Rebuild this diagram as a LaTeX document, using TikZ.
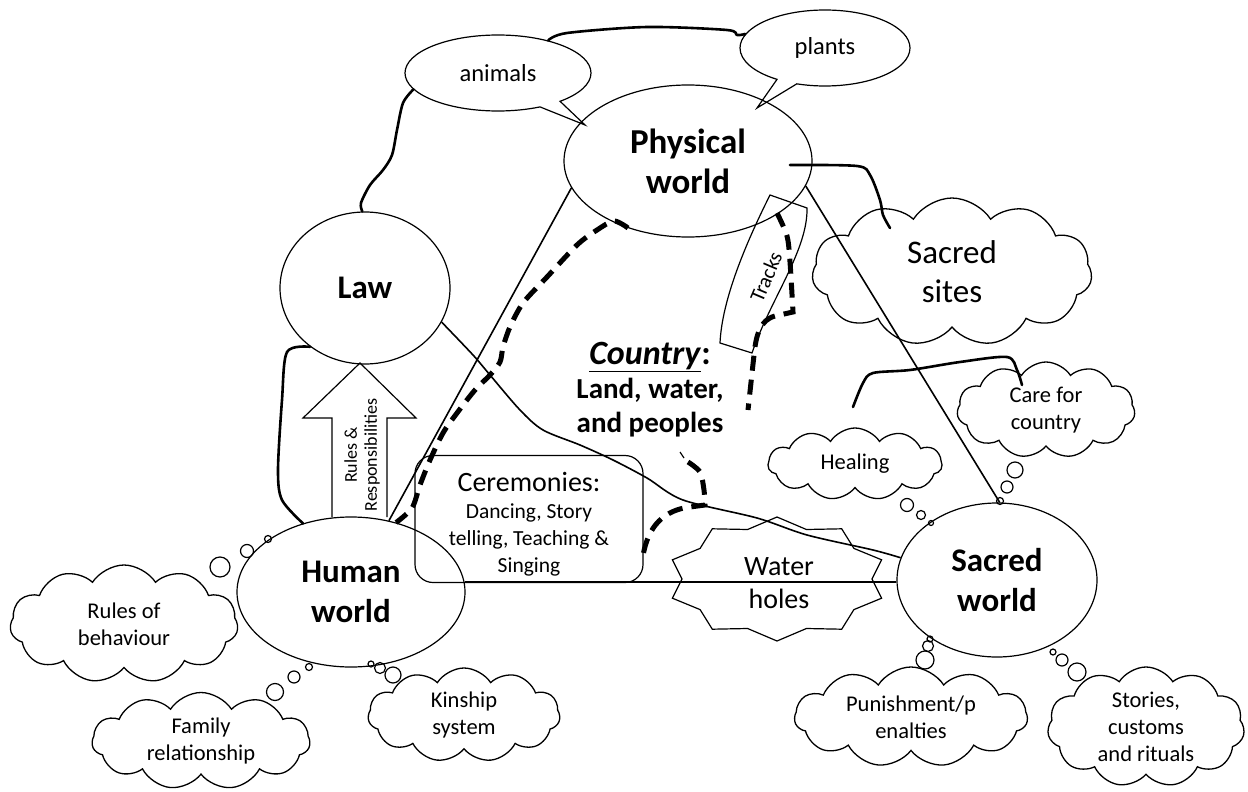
\documentclass[tikz,border=0pt]{standalone}
\usepackage{fontspec}
\setmainfont{Carlito}
\usetikzlibrary{shapes.geometric,shapes.symbols,shapes.callouts}

\begin{document}
\begin{tikzpicture}[
		x=1pt, y=-1pt,
		thinline/.style={line width=1.2pt},
		edge/.style={line width=1.6pt},
		handline/.style={line width=2.6pt, line cap=round, line join=round},
		trail/.style={line width=5pt, dash pattern=on 15pt off 9pt},
		world/.style={ellipse, draw, thinline, inner sep=0pt, align=center, font=\bfseries\fontsize{33}{40}\selectfont},
		bubble/.style={ellipse callout, draw, thinline, inner sep=0pt, font=\fontsize{24.5}{28}\selectfont},
		thought/.style={cloud, cloud puffs=11, cloud puff arc=115, cloud ignores aspect, draw, line width=1.3pt, inner sep=0pt, align=center, font=\fontsize{22.5}{27}\selectfont}
		]
		
		\useasboundingbox (0,0) rectangle (1248,792);
		
		% the four worlds
		\node[world, minimum width=248pt, minimum height=152pt, font=\bfseries\fontsize{35}{40}\selectfont] (phys) at (688,161) {Physical\\world};
		\node[world, minimum width=170pt, minimum height=152pt] (law) at (365,288) {Law};
		\node[world, minimum width=228pt, minimum height=150pt] (human) at (351,592) {Human\\world};
		\node[world, minimum width=200pt, minimum height=154pt] (sacred) at (997,580) {Sacred\\world};
		
		% speech bubbles
		\node[bubble, minimum width=186pt, minimum height=76pt, callout absolute pointer={(585,125)}] (animals) at (498,73) {animals};
		\node[bubble, minimum width=170pt, minimum height=76pt, callout absolute pointer={(757,108)}] (plants) at (825,48) {plants};
		
		% clouds
		\node[thought, minimum width=280pt, minimum height=148pt, font=\fontsize{33}{39}\selectfont] (sites) at (952,272) {Sacred\\sites};
		\node[thought, minimum width=178pt, minimum height=96pt] (care) at (1046,410) {Care for\\country};
		\node[thought, minimum width=174pt, minimum height=72pt] (healing) at (855,464) {Healing};
		\node[thought, minimum width=228pt, minimum height=118pt] (rules) at (124,624) {Rules of\\behaviour};
		\node[thought, minimum width=218pt, minimum height=97pt] (family) at (201,741) {Family\\relationship};
		\node[thought, minimum width=192pt, minimum height=94pt] (kin) at (464,715) {Kinship\\system};
		\node[thought, minimum width=233pt, minimum height=100pt] (punish) at (911,717) {Punishment/p\\enalties};
		\node[thought, minimum width=197pt, minimum height=120pt] (stories) at (1146,727) {Stories,\\customs\\and rituals};
		
		% thought bubbles
		\foreach \bx/\by/\br in {1015/470/8, 1007/487/6, 1000/501/3.5, 907/505/6.5, 921/515/4.5, 931/523/2.5,
			220/567/10, 247/551/6.5, 268/539/3.5, 275/692/8.5, 294/677/6, 309/667/3.5,
			393/675/8, 380/668/5.5, 371/664/3, 925/660/9, 928/646/5.5, 930/639/3,
			1077/672/9, 1062/660/6, 1053/652/3}
		\draw[thinline] (\bx,\by) circle[radius=\br pt];
		
		% triangle
		\draw[edge] (human.62) -- (phys.193);
		\draw[edge] (phys.-12) -- (sacred.88);
		\draw[edge] (human.5) -- (human.5 -| sacred.west);
		
		% hand drawn links
		\draw[handline] plot[smooth] coordinates {(animals.191) (403,103) (397,130) (392,155) (383,170) (370,185) (361,203) (law.92)};
		\draw[handline] plot[smooth] coordinates {(animals.33) (567,33) (647,27) (727,30) (737,35) (plants.170)};
		\draw[handline] plot[smooth] coordinates {(law.227) (287,352) (282,400) (278,470) (282,500) (human.125)};
		\draw[edge] plot[smooth] coordinates {(law.-24) (473,355) (490,375) (520,410) (543,430) (580,445) (613,460) (647,478) (683,500) (757,518) (807,535) (873,550) (sacred.167)};
		
		\coordinate (physhook) at (790,165);
		\coordinate (siteshook) at (890,228);
		\draw[handline] plot[smooth] coordinates {(physhook) (857,166) (870,175) (880,200) (883,215) (siteshook)};
		
		\coordinate (carestart) at (853,407);
		\coordinate (careend) at (1022,385);
		\draw[handline] plot[smooth] coordinates {(carestart) (863,383) (873,373) (910,370) (960,362) (1007,357) (1017,370) (careend)};
		
		% dashed tracks
		\coordinate (trailA) at (628,228);
		\draw[trail] plot[smooth] coordinates {(trailA) (614,221) (597,230) (577,245) (547,277) (523,303) (510,327) (503,347) (500,362) (490,375) (475,390) (457,413) (443,433) (430,460) (420,485) (412,508) (human.57)};
		\coordinate (trailB) at (777,213);
		\draw[trail] plot[smooth] coordinates {(trailB) (787,236) (790,262) (793,312)} -- (775,316) .. controls (760,320) and (756,335) .. (754,355) -- (748,410);
		\coordinate (trailC) at (688,462);
		\draw[thinline] (680,452) -- (684,458);
		\draw[trail] plot[smooth] coordinates {(trailC) (700,472) (704,490) (705,505)} -- (690,507) .. controls (665,510) and (648,525) .. (643,556);
		
		% Tracks banner
		\draw[thinline] (770,195) -- (807,208) .. controls (808,250) and (770,300) .. (752,353) -- (720,343) .. controls (722,300) and (745,245) .. (770,195) -- cycle;
		\node[rotate=67, font=\fontsize{21}{22}\selectfont] (tracks) at (766,277) {Tracks};
		
		% Rules arrow
		\draw[thinline] (332,517) -- (332,418) -- (303,418) -- (360,363) -- (416,418) -- (387,418) -- (387,517);
		\node[rotate=90, align=center, font=\fontsize{18}{20}\selectfont] (resp) at (362,455) {Rules \&\\Responsibilities};
		
		% Ceremonies
		\node[draw, thinline, rounded corners=18pt, minimum width=228pt, minimum height=127pt] (cer) at (529,519) {};
		\node[align=center, font=\fontsize{21.5}{27}\selectfont] (certext) at (529,524) {{\fontsize{28}{30}\selectfont Ceremonies:}\\Dancing, Story\\telling, Teaching \&\\Singing};
		
		% Water holes
		\draw[thinline] (872,579) -- (881.6,559.8) -- (853.9,548.4) -- (841.7,528.8) -- (806.4,529.5) -- (777,517) -- (747.6,529.5) -- (712.3,528.8) -- (700.1,548.4) -- (672.4,559.8) -- (682,579) -- (672.4,598.2) -- (700.1,609.6) -- (712.3,629.2) -- (747.6,628.5) -- (777,641) -- (806.4,628.5) -- (841.7,629.2) -- (853.9,609.6) -- (881.6,598.2) -- cycle;
		\node[align=center, font=\fontsize{28}{33}\selectfont] (holes) at (779,583) {Water\\holes};
		
		% Country
		\node[align=center, font=\bfseries\fontsize{29}{34}\selectfont] (country) at (650,390) {{\fontsize{34}{34}\selectfont\underline{\textit{Country}}:}\\Land, water,\\and peoples};
		
\end{tikzpicture}
\end{document}
